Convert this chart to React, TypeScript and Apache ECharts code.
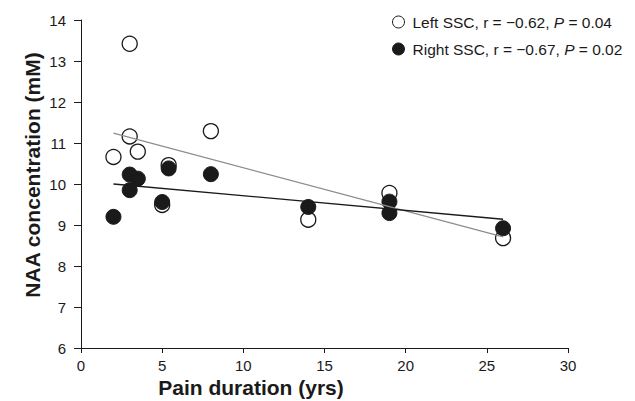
import React, { useEffect, useRef } from "react";
import * as echarts from "echarts";

const leftDuration = [2, 3, 3, 3.5, 5, 5.4, 8, 14, 19, 26];
const leftNAA = [10.66, 13.42, 11.16, 10.79, 9.49, 10.46, 11.29, 9.13, 9.78, 8.68];

const rightDuration = [2, 3, 3, 3.5, 5, 5.4, 8, 14, 19, 19, 26];
const rightNAA = [9.2, 10.23, 9.85, 10.13, 9.56, 10.38, 10.24, 9.44, 9.57, 9.29, 8.92];

const leftFitX = [2, 26];
const leftFitY = [11.24, 8.71];
const rightFitX = [2, 26];
const rightFitY = [10.0, 9.14];

const leftLabel = ["Left SSC, r = \u22120.62, ", "P", " = 0.04"];
const rightLabel = ["Right SSC, r = \u22120.67, ", "P", " = 0.02"];

const xTitle = "Pain duration (yrs)";
const yTitle = "NAA concentration (mM)";

const zip = (a: number[], b: number[]) => a.map((v, i) => [v, b[i]]);

export default function App() {
  const ref = useRef<HTMLDivElement>(null);
  useEffect(() => {
    if (!ref.current) return;
    const chart = echarts.init(ref.current, undefined, { renderer: "svg" });
    const font = "Liberation Sans, Arial, sans-serif";
    const ink = "#1a1a1a";
    chart.setOption({
      animation: false,
      backgroundColor: "#fff",
      textStyle: { fontFamily: font },
      grid: { left: 81, right: 67, top: 20, bottom: 53 },
      legend: {
        data: ["Left SSC", "Right SSC"],
        orient: "vertical",
        left: 387,
        top: 9,
        itemWidth: 12,
        itemHeight: 12,
        itemGap: 11,
        icon: "circle",
        itemStyle: { borderWidth: 1 },
        formatter: (name: string) => {
          const p = name === "Left SSC" ? leftLabel : rightLabel;
          return `{a|${p[0]}}{i|${p[1]}}{a|${p[2]}}`;
        },
        textStyle: {
          fontFamily: font,
          fontSize: 15.5,
          color: ink,
          padding: [0, 0, 0, 3],
          rich: {
            a: { fontFamily: font, fontSize: 15.5, color: ink, lineHeight: 18 },
            i: { fontFamily: font, fontSize: 15.5, color: ink, fontStyle: "italic", lineHeight: 18 },
          },
        },
      },
      xAxis: {
        type: "value",
        min: 0,
        max: 30,
        interval: 5,
        splitLine: { show: false },
        axisLine: { lineStyle: { color: ink, width: 1 } },
        axisTick: { show: true, length: 5, lineStyle: { color: ink } },
        axisLabel: { color: ink, fontSize: 15, margin: 10, fontFamily: font },
      },
      yAxis: {
        type: "value",
        min: 6,
        max: 14,
        interval: 1,
        splitLine: { show: false },
        axisLine: { show: true, lineStyle: { color: ink, width: 1 } },
        axisTick: { show: true, length: 7, lineStyle: { color: ink } },
        axisLabel: { color: ink, fontSize: 15, margin: 15, fontFamily: font },
      },
      graphic: [
        {
          type: "text",
          x: 251,
          y: 387,
          style: {
            text: xTitle,
            fontSize: 21,
            fontWeight: "bold",
            fill: ink,
            fontFamily: font,
            align: "center",
            verticalAlign: "middle",
          },
        },
        {
          type: "text",
          x: 32,
          y: 175,
          rotation: Math.PI / 2,
          style: {
            text: yTitle,
            fontSize: 21,
            fontWeight: "bold",
            fill: ink,
            fontFamily: font,
            align: "center",
            verticalAlign: "middle",
          },
        },
      ],
      series: [
        {
          name: "Left SSC",
          type: "scatter",
          symbol: "circle",
          symbolSize: 15,
          data: zip(leftDuration, leftNAA),
          itemStyle: { color: "#ffffff", borderColor: ink, borderWidth: 1.3, opacity: 1 },
          z: 2,
        },
        {
          name: "Right SSC",
          type: "scatter",
          symbol: "circle",
          symbolSize: 15,
          data: zip(rightDuration, rightNAA),
          itemStyle: { color: ink, borderColor: ink, borderWidth: 1, opacity: 1 },
          z: 3,
        },
        {
          name: "Left fit",
          type: "line",
          data: zip(leftFitX, leftFitY),
          symbol: "none",
          lineStyle: { color: "#8c8c8c", width: 1.3 },
          z: 4,
        },
        {
          name: "Right fit",
          type: "line",
          data: zip(rightFitX, rightFitY),
          symbol: "none",
          lineStyle: { color: ink, width: 1.3 },
          z: 4,
        },
      ],
    });
    return () => chart.dispose();
  }, []);
  return (
    <div
      ref={ref}
      style={{ position: "fixed", left: 0, top: 0, width: 635, height: 401, background: "#fff" }}
    />
  );
}
